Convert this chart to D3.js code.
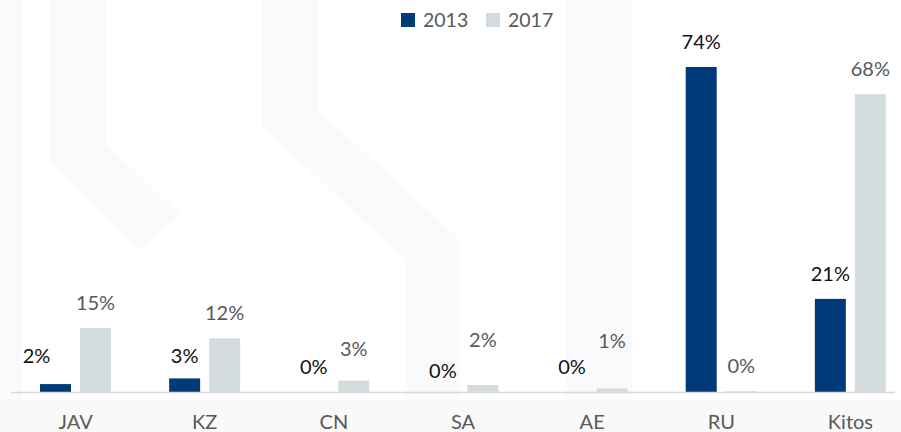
<!DOCTYPE html>
<html>
<head>
<meta charset="utf-8">
<script src="https://cdn.jsdelivr.net/npm/d3@7"></script>
<style>
  html, body { margin: 0; padding: 0; background: #ffffff; }
  svg { display: block; font-family: Lato, "Open Sans", sans-serif; }
</style>
</head>
<body>
<svg id="chart" width="901" height="432"></svg>
<script>
// ---- data ----
const categories = ["JAV", "KZ", "CN", "SA", "AE", "RU", "Kitos"];
const seriesNames = ["2013", "2017"];
const values2013 = [0.018, 0.031, 0.0, 0.0, 0.0, 0.74, 0.212];
const values2017 = [0.146, 0.122, 0.026, 0.016, 0.008, 0.002, 0.678];

// label offsets (manual nudges as in the original)
const nudge2013 = [[-19, -3], [0, 3], [0, 0], [0, 4], [0, 0], [0, 0], [0, 0]];
const nudge2017 = [[0, 0], [0, 0], [0, -7], [0, -20], [0, -22], [0, 0], [0, 0]];

const colors = { "2013": "#003a78", "2017": "#d5dcdf" };
const labelColors = { "2013": "#111111", "2017": "#595959" };

const svg = d3.select("#chart");

// faint background watermark
const wm = svg.append("g").attr("fill", "#fafafc");
const wmPaths = [
  "M50,0 L107,0 L107,145 L180,215 L140,250 L50,160 Z",
  "M262,0 L318,0 L318,110 L460,240 L460,432 L405,432 L405,260 L262,125 Z",
  "M565,0 L632,0 L632,432 L565,432 Z",
  "M0,0 L22,0 L22,432 L0,432 Z"
];
wm.selectAll("path").data(wmPaths).join("path").attr("d", d => d);
svg.append("rect").attr("x", 0).attr("y", 400).attr("width", 901).attr("height", 32).attr("fill", "#f9f9fa");

const baseY = 392;
const x = d3.scaleBand().domain(categories).range([11, 915]).paddingInner(0).paddingOuter(0);
const xs = d3.scaleBand().domain(seriesNames).range([29, 100]).paddingInner(0.225).paddingOuter(0);
const y = d3.scaleLinear().domain([0, 0.74]).range([baseY, 67]);
const fmt = d3.format(".0%");

const rows = categories.map((c, i) => ({
  cat: c,
  vals: [
    { s: "2013", v: values2013[i], n: nudge2013[i] },
    { s: "2017", v: values2017[i], n: nudge2017[i] }
  ]
}));

const groups = svg.append("g").selectAll("g").data(rows).join("g")
  .attr("transform", d => `translate(${x(d.cat)},0)`);

groups.selectAll("rect").data(d => d.vals).join("rect")
  .attr("x", d => xs(d.s))
  .attr("width", xs.bandwidth())
  .attr("y", d => y(d.v))
  .attr("height", d => baseY - y(d.v))
  .attr("fill", d => colors[d.s]);

groups.selectAll("text").data(d => d.vals).join("text")
  .attr("x", d => xs(d.s) + xs.bandwidth() / 2 + d.n[0])
  .attr("y", d => y(d.v) - 18 + d.n[1])
  .attr("text-anchor", "middle")
  .attr("font-size", 20)
  .attr("fill", d => labelColors[d.s])
  .text(d => fmt(d.v));

// axis
const xAxis = d3.axisBottom(x).tickSize(0).tickPadding(23);
const ax = svg.append("g").attr("transform", `translate(0,${baseY})`).call(xAxis);
ax.select(".domain").attr("stroke", "#d9d9d9").attr("stroke-width", 1.5).attr("d", "M11,0.5H895");
ax.selectAll(".tick text").attr("font-size", 20).attr("fill", "#595959")
  .attr("font-family", "Lato, 'Open Sans', sans-serif");

// legend
const legend = svg.append("g").selectAll("g").data(seriesNames).join("g")
  .attr("transform", (d, i) => `translate(${401 + i * 85},13)`);
legend.append("rect").attr("width", 14).attr("height", 14).attr("fill", d => colors[d]);
legend.append("text").attr("x", 22).attr("y", 14).attr("font-size", 19.5)
  .attr("fill", "#595959").text(d => d);
</script>
</body>
</html>
